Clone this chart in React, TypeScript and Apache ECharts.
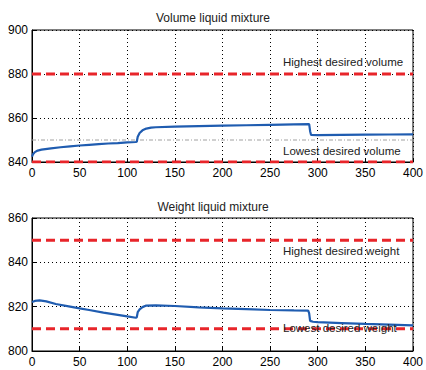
import React, { useEffect, useRef } from "react";
import * as echarts from "echarts";

const volX = [0, 1, 3, 6, 10, 20, 30, 40, 50, 60, 70, 80, 90, 100, 109, 110, 111, 113, 116, 120, 125, 130, 150, 175, 200, 225, 250, 275, 291, 292, 293, 300, 325, 350, 375, 400];
const volY = [842.4, 843.5, 844.5, 845.2, 845.6, 846.2, 846.7, 847.1, 847.5, 847.8, 848.1, 848.4, 848.6, 848.9, 849.1, 849.2, 851.5, 853.2, 854.4, 855.2, 855.6, 855.8, 856.1, 856.3, 856.5, 856.7, 856.9, 857.1, 857.2, 854.0, 852.3, 852.2, 852.3, 852.4, 852.5, 852.6];

const wgtX = [0, 3, 8, 15, 25, 40, 50, 60, 75, 90, 100, 109, 110, 111, 113, 116, 120, 130, 150, 175, 200, 225, 250, 275, 290, 291, 292, 295, 300, 325, 350, 375, 400];
const wgtY = [822.1, 822.6, 822.8, 822.4, 821.2, 820.0, 819.2, 818.5, 817.3, 816.3, 815.6, 815.0, 815.2, 817.5, 818.8, 819.8, 820.5, 820.6, 820.3, 819.7, 819.2, 818.9, 818.5, 818.3, 818.2, 817.0, 813.6, 813.2, 813.0, 812.6, 812.2, 811.9, 811.6];

const titles = ["Volume liquid mixture", "Weight liquid mixture"];
const volLimits = [880, 840];
const wgtLimits = [850, 810];
const volSetpoint = 850;
const limitLabels = ["Highest desired volume", "Lowest desired volume", "Highest desired weight", "Lowest desired weight"];
const xTicks = { min: 0, max: 400, interval: 50 };
const volTicks = { min: 840, max: 900, interval: 20 };
const wgtTicks = { min: 800, max: 860, interval: 20 };

const FONT = "Liberation Sans";

export default function App() {
  const ref = useRef<HTMLDivElement>(null);
  useEffect(() => {
    const chart = echarts.init(ref.current!, null, { renderer: "svg" });
    const pair = (xs: number[], ys: number[]) => xs.map((x, i) => [x, ys[i]]);
    const gridLine = { show: true, lineStyle: { color: "#000", type: [1, 3], width: 1 } };
    const xAxisBase = (gi: number) => ({
      type: "value",
      gridIndex: gi,
      ...xTicks,
      axisLine: { show: true, onZero: false, lineStyle: { color: "#000" } },
      axisTick: { show: true, inside: true, length: 4, lineStyle: { color: "#000" } },
      axisLabel: { color: "#000", fontSize: 12, fontFamily: FONT, margin: 5 },
      splitLine: gridLine,
    });
    const yAxisBase = (gi: number, t: any) => ({
      type: "value",
      gridIndex: gi,
      ...t,
      axisLine: { show: true, lineStyle: { color: "#000" } },
      axisTick: { show: true, inside: true, length: 4, lineStyle: { color: "#000" } },
      axisLabel: { color: "#000", fontSize: 12, fontFamily: FONT, margin: 4 },
      splitLine: gridLine,
    });
    const hline = (v: number, gi: number, color: string, width: number, type: any) => ({
      type: "line",
      xAxisIndex: gi,
      yAxisIndex: gi,
      data: [[xTicks.min, v], [xTicks.max, v]],
      symbol: "none",
      silent: true,
      lineStyle: { color, width, type },
      z: 3,
    });
    const blue = "#1f5cb0";
    const red = "#e8252a";
    const txt = (s: string, x: number, y: number) => ({
      type: "text",
      left: x,
      top: y,
      style: { text: s, fill: "#222", font: `11.5px "${FONT}"` },
      z: 10,
    });
    chart.setOption({
      animation: false,
      title: [
        { text: titles[0], left: "center", top: 7, textStyle: { fontSize: 12, fontWeight: "normal", fontFamily: FONT, color: "#222" } },
        { text: titles[1], left: "center", top: 196, textStyle: { fontSize: 12, fontWeight: "normal", fontFamily: FONT, color: "#222" } },
      ],
      grid: [
        { left: 32, top: 30, width: 385, height: 132, show: true, borderColor: "#000", borderWidth: 1, backgroundColor: "#fff" },
        { left: 32, top: 218, width: 385, height: 133, show: true, borderColor: "#000", borderWidth: 1, backgroundColor: "#fff" },
      ],
      xAxis: [xAxisBase(0), xAxisBase(1)],
      yAxis: [yAxisBase(0, volTicks), yAxisBase(1, wgtTicks)],
      series: [
        hline(volSetpoint, 0, "#a0a0a0", 1, [4, 2, 1, 2]),
        hline(volLimits[0], 0, red, 3, [9, 5]),
        hline(volLimits[1], 0, red, 3, [9, 5]),
        hline(wgtLimits[0], 1, red, 3, [9, 5]),
        hline(wgtLimits[1], 1, red, 3, [9, 5]),
        { type: "line", xAxisIndex: 0, yAxisIndex: 0, data: pair(volX, volY), symbol: "none", lineStyle: { color: blue, width: 2.2 }, z: 4 },
        { type: "line", xAxisIndex: 1, yAxisIndex: 1, data: pair(wgtX, wgtY), symbol: "none", lineStyle: { color: blue, width: 2.2 }, z: 4 },
      ],
      graphic: [
        txt(limitLabels[0], 283, 56),
        txt(limitLabels[1], 283, 145),
        txt(limitLabels[2], 283, 245),
        txt(limitLabels[3], 283, 322),
      ],
    });
    return () => chart.dispose();
  }, []);
  return <div ref={ref} style={{ width: 426, height: 370, position: "absolute", left: 0, top: 0 }} />;
}
